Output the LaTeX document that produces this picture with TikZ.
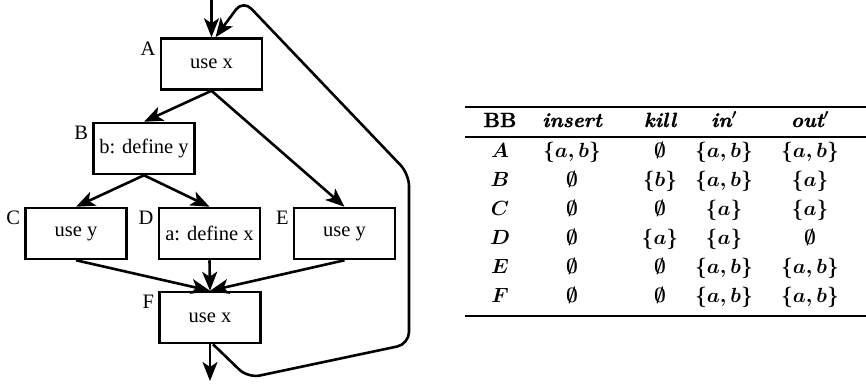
\RequirePackage{fix-cm}
\documentclass[tikz,border=0pt]{standalone}
\usepackage{fontspec}
\usetikzlibrary{arrows.meta}
\newfontfamily\cfgfont{Liberation Serif}
% heavy bold face for the table headings
\newfontfamily\hdfam{Latin Modern Roman}[BoldFeatures={FakeBold=1.6},
  BoldItalicFeatures={FakeBold=1.2}]
\newcommand\hdfont{\hdfam\bfseries}
\newcommand\hdit{\hdfam\bfseries\itshape}
% set notation used in the table cells
\newcommand\qAB{$\{a,b\}$}
\newcommand\qA{$\{a\}$}
\newcommand\qB{$\{b\}$}
\newcommand\qE{$\emptyset$}
\begin{document}
\begin{tikzpicture}[x=1pt,y=-1pt,
  block/.style={draw, line width=2.5pt, minimum width=101pt, minimum height=51pt,
    inner sep=0pt, font=\cfgfont\fontsize{20.5}{24}\selectfont},
  tag/.style={anchor=base east, inner sep=0pt, font=\cfgfont\fontsize{20.5}{24}\selectfont},
  flow/.style={line width=2.6pt, -{Stealth[length=19pt,width=15pt,inset=5pt]}},
  rule/.style={line width=2.4pt},
  cell/.style={anchor=base, inner sep=0pt, font=\fontsize{20.5}{24}\selectfont\boldmath}]
\useasboundingbox (0,0) rectangle (866,384);

% control flow graph
\node[block] (A) at (211.5,64)  {use x};
\node[block] (B) at (144,148.5) {b: define y};
\node[block] (C) at (76,233.5)  {use y};
\node[block] (D) at (209.5,233.5) {a: define x};
\node[block] (E) at (344.5,233.5) {use y};
\node[block] (F) at (210,317.5) {use x};

\foreach \b in {A,B,C,D,E,F}
  \node[tag] (l\b) at ([xshift=-4pt,yshift=-18pt]\b.north west) {\b};

\coordinate (entry) at (211.5,0);
\coordinate (exit) at (210,381);
\coordinate (k1) at (248,378);
\coordinate (k2) at (409,344);
\coordinate (k3) at (409,174);
\coordinate (k4) at (243,0);

\draw[flow] (entry) -- (A.north);
\draw[flow] (A.south) -- (B.north);
\draw[flow] (A.south) -- (E.north);
\draw[flow] (B.south) -- (C.north);
\draw[flow] (B.south) -- (D.north);
\draw[flow] (C.south) -- (F.north);
\draw[flow] (D.south) -- (F.north);
\draw[flow] (E.south) -- (F.north);
\draw[flow] (F.south) -- (exit);
\draw[flow, rounded corners=12pt] ([xshift=3pt]F.south) -- (k1) -- (k2) -- (k3) -- (k4)
  -- ([xshift=4pt]A.north);

% data-flow table
\coordinate (r0a) at (465,107);  \coordinate (r0b) at (866,107);
\coordinate (r1a) at (465,137);  \coordinate (r1b) at (866,137);
\coordinate (r2a) at (465,316);  \coordinate (r2b) at (866,316);
\draw[rule] (r0a) -- (r0b);
\draw[rule] (r1a) -- (r1b);
\draw[rule] (r2a) -- (r2b);

\node[cell] (h1) at (500,127) {\hdfont BB};
\node[cell] (h2) at (572,127) {\hdit insert};
\node[cell] (h3) at (660,127) {\hdit kill};
\node[cell] (h4) at (724,127) {\hdit in$'$};
\node[cell] (h5) at (810,127) {\hdit out$'$};

\foreach \n/\p/\q/\r/\s [count=\i from 0] in
  {A/\qAB/\qE/\qAB/\qAB, B/\qE/\qB/\qAB/\qA, C/\qE/\qE/\qA/\qA,
   D/\qE/\qA/\qA/\qE, E/\qE/\qE/\qAB/\qAB, F/\qE/\qE/\qAB/\qAB} {
  \node[cell] (c\n1) at (500,{157+29*\i}) {$\n$};
  \node[cell] (c\n2) at (572,{157+29*\i}) {\p};
  \node[cell] (c\n3) at (660,{157+29*\i}) {\q};
  \node[cell] (c\n4) at (724,{157+29*\i}) {\r};
  \node[cell] (c\n5) at (810,{157+29*\i}) {\s};
}
\end{tikzpicture}
\end{document}
